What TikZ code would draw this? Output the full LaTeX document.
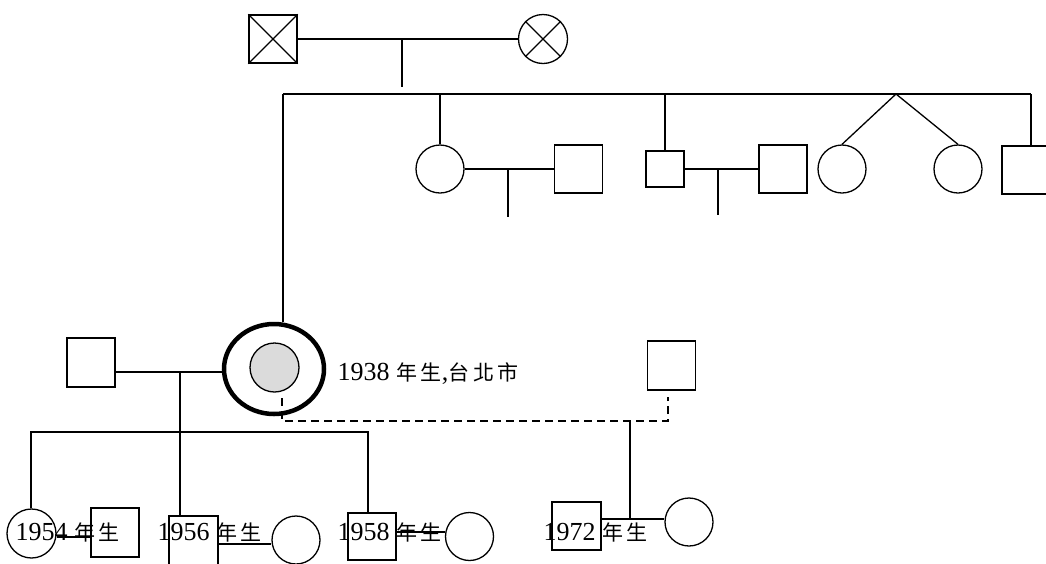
\documentclass[tikz,border=0pt]{standalone}
\usepackage{fontspec}
\setmainfont{Liberation Serif}
\newfontfamily\cjkfont[LetterSpace=18]{Noto Sans CJK TC}
\newcommand\zhtext[1]{{\fontsize{21}{22}\selectfont\cjkfont #1}}
\usetikzlibrary{shapes.geometric}

\begin{document}
\begin{tikzpicture}[x=1pt,y=-1pt,line width=1.3pt,
    male/.style={draw,rectangle,minimum width=48pt,minimum height=48pt,inner sep=0pt},
    female/.style={draw,circle,minimum size=48pt,inner sep=0pt},
    yearlabel/.style={anchor=base west,inner sep=0pt,font=\fontsize{26}{28}\selectfont},
    dashline/.style={dash pattern=on 8pt off 5pt}]
  \definecolor{kShade}{rgb}{0.86,0.86,0.86}
  \useasboundingbox (0,0) rectangle (1046,563);

  % grandparents
  \node[male] (gf) at (273,39) {};
  \node[female,minimum size=49pt] (gm) at (543,39) {};
  \draw (gf.north west) -- (gf.south east) (gf.south west) -- (gf.north east);
  \draw (gm.north west) -- (gm.south east) (gm.south west) -- (gm.north east);
  \draw (gf) -- (gm);
  \coordinate (gmTop) at (402,39);
  \coordinate (gmBot) at (402,87);
  \draw (gmTop) -- (gmBot);

  % sibship
  \coordinate (sibL) at (283,94);
  \coordinate (sibR) at (1031,94);
  \coordinate (twin) at (896,94);
  \draw (sibL) -- (sibR);

  \node[female] (a1) at (440,169) {};
  \node[male] (a1h) at (578.5,169) {};
  \coordinate (a1m) at (508,169);
  \coordinate (a1k) at (508,217);
  \draw (a1.north) -- (a1.north |- sibL);
  \draw (a1) -- (a1h);
  \draw (a1m) -- (a1k);

  \node[male,minimum width=38pt,minimum height=36pt] (u2) at (665,169) {};
  \node[male] (u2w) at (783,169) {};
  \coordinate (u2m) at (718,169);
  \coordinate (u2k) at (718,215);
  \draw (u2.north) -- (u2.north |- sibL);
  \draw (u2) -- (u2w);
  \draw (u2m) -- (u2k);

  \node[female] (tw1) at (842,169) {};
  \node[female] (tw2) at (958,169) {};
  \draw (tw1.north) -- (twin) -- (tw2.north);

  \node[male] (s5) at (1026,170) {};
  \draw (sibR) -- (sibR |- s5.north);

  % proband and partners
  \coordinate (d1) at (282,398);
  \coordinate (d2) at (668,397);
  \coordinate (dj) at (630,421);
  \coordinate (m4) at (630,519);
  \draw[dashline] (d1) |- (dj) -| (d2);
  \draw (dj) -- (m4);

  \node[draw,ellipse,line width=4.5pt,minimum width=100pt,minimum height=90pt,inner sep=0pt] (ego) at (274,369) {};
  \node[female,fill=kShade,minimum size=49pt] (egoin) at (274.5,367.5) {};
  \draw (sibL) -- (sibL |- ego.north);
  \node[yearlabel] (egolabel) at (337,380) {1938 \zhtext{年生},\zhtext{台北市}};

  \node[male,minimum height=49pt] (h1) at (91,362.5) {};
  \node[male,minimum height=49pt] (p) at (671.5,365.5) {};
  \coordinate (m1) at (180,372);
  \draw (h1.east |- m1) -- (ego.west |- m1);

  % children
  \node[female,minimum size=49pt] (c1) at (31.5,533.5) {};
  \node[male,minimum height=49pt] (s1) at (115,532.5) {};
  \node[male,minimum width=49pt,minimum height=49pt] (c2) at (193.5,540.5) {};
  \node[female] (w2) at (296,540) {};
  \node[male,minimum height=47pt] (c3) at (372,536.5) {};
  \node[female] (w3) at (469.5,536.5) {};
  \node[male,minimum width=49pt] (c4) at (576.5,526) {};
  \node[female] (w4) at (689,522) {};

  \coordinate (kidsL) at (31,432);
  \coordinate (kidsR) at (368,432);
  \draw (m1) -- (m1 |- c2.north);
  \draw (kidsL |- c1.north) -- (kidsL) -- (kidsR) -- (kidsR |- c3.north);

  \foreach \a/\b/\y in {c1/s1/537,c2/w2/544,c3/w3/532,c4/w4/519}
    \draw (\a.east |- 0,\y) -- (\b.west |- 0,\y);

  \foreach \yr/\x in {1954/15,1956/157,1958/337,1972/543}
    \node[yearlabel] (y\yr) at (\x,540) {\yr\ \zhtext{年生}};
\end{tikzpicture}
\end{document}
